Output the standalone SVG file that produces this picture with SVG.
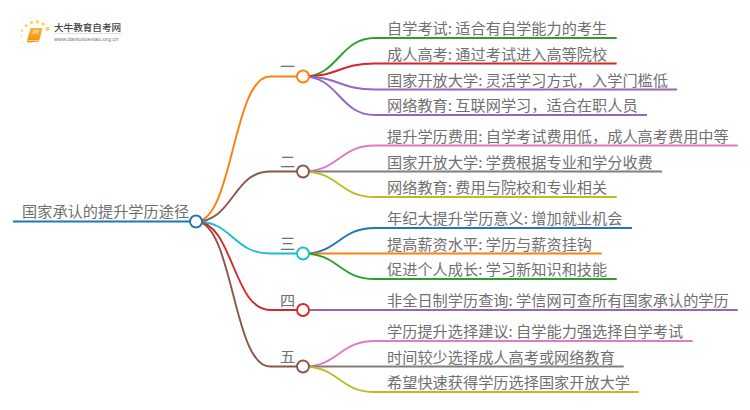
<svg xmlns="http://www.w3.org/2000/svg" width="750" height="410" viewBox="0 0 750 410">
<style>
text{font-family:"Noto Sans CJK SC","Liberation Sans",sans-serif;font-size:15.2px;fill:#707070}
.c{fill:none;stroke-width:1.9}
.n{fill:#fff;stroke-width:1.9}
.o{stroke:#ff7f0e}.br{stroke:#8c564b}.cy{stroke:#17becf}.r{stroke:#d62728}.g{stroke:#2ca02c}.p{stroke:#9467bd}.pk{stroke:#e377c2}.gy{stroke:#7f7f7f}.ol{stroke:#bcbd22}.b{stroke:#1f77b4}
</style>
<defs><linearGradient id="bk" x1="0" y1="0" x2="0" y2="1"><stop offset="0" stop-color="#fbb63f"/><stop offset="1" stop-color="#f08c08"/></linearGradient></defs>
<rect width="750" height="410" fill="#fff"/>
<g id="connectors">
<path class="c b" d="M13 221.500H190"/>
<path class="c o" d="M196 221.500C233 221.500 233 76.500 270 76.500H297"/>
<path class="c br" d="M196 221.500C233 221.500 233 171.500 270 171.500H297"/>
<path class="c cy" d="M196 221.500C233 221.500 233 253.500 270 253.500H297"/>
<path class="c r" d="M196 221.500C233 221.500 233 310 270 310H297"/>
<path class="c br" d="M196 221.500C233 221.500 233 366.500 270 366.500H297"/>
<path class="c g" d="M303 76.500C339 76.500 339 38 375 38H616.700"/>
<path class="c r" d="M303 76.500C339 76.500 339 63.500 375 63.500H616.700"/>
<path class="c p" d="M303 76.500C339 76.500 339 89.500 375 89.500H677"/>
<path class="c p" d="M303 76.500C339 76.500 339 115 375 115H647"/>
<path class="c pk" d="M303 171.500C339 171.500 339 145.500 375 145.500H737.700"/>
<path class="c gy" d="M303 171.500H662"/>
<path class="c ol" d="M303 171.500C339 171.500 339 197 375 197H616.700"/>
<path class="c b" d="M303 253.500C339 253.500 339 228 375 228H632"/>
<path class="c o" d="M303 253.500H601.700"/>
<path class="c g" d="M303 253.500C339 253.500 339 279 375 279H616.700"/>
<path class="c p" d="M303 310H737.700"/>
<path class="c pk" d="M303 366.500C339 366.500 339 341 375 341H692.700"/>
<path class="c gy" d="M303 366.500H623.700"/>
<path class="c ol" d="M303 366.500C339 366.500 339 392 375 392H638.700"/>
</g>
<g id="root"><circle class="n b" cx="196" cy="221.500" r="6"/><text x="22" y="217">国家承认的提升学历途径</text></g>
<g id="b1"><circle class="n o" cx="303" cy="76.500" r="6"/><text x="280" y="72">一</text></g>
<g id="b2"><circle class="n br" cx="303" cy="171.500" r="6"/><text x="280" y="167">二</text></g>
<g id="b3"><circle class="n cy" cx="303" cy="253.500" r="6"/><text x="280" y="249">三</text></g>
<g id="b4"><circle class="n r" cx="303" cy="310" r="6"/><text x="280" y="305.500">四</text></g>
<g id="b5"><circle class="n br" cx="303" cy="366.500" r="6"/><text x="280" y="362">五</text></g>
<g id="l1"><text x="387" y="34">自学考试: 适合有自学能力的考生</text></g>
<g id="l2"><text x="387" y="59.500">成人高考: 通过考试进入高等院校</text></g>
<g id="l3"><text x="387" y="85.500">国家开放大学: 灵活学习方式，入学门槛低</text></g>
<g id="l4"><text x="387" y="111">网络教育: 互联网学习，适合在职人员</text></g>
<g id="l5"><text x="387" y="141.500">提升学历费用: 自学考试费用低，成人高考费用中等</text></g>
<g id="l6"><text x="387" y="167.500">国家开放大学: 学费根据专业和学分收费</text></g>
<g id="l7"><text x="387" y="193">网络教育: 费用与院校和专业相关</text></g>
<g id="l8"><text x="387" y="224">年纪大提升学历意义: 增加就业机会</text></g>
<g id="l9"><text x="387" y="249.500">提高薪资水平: 学历与薪资挂钩</text></g>
<g id="l10"><text x="387" y="275">促进个人成长: 学习新知识和技能</text></g>
<g id="l11"><text x="387" y="306">非全日制学历查询: 学信网可查所有国家承认的学历</text></g>
<g id="l12"><text x="387" y="337">学历提升选择建议: 自学能力强选择自学考试</text></g>
<g id="l13"><text x="387" y="362.500">时间较少选择成人高考或网络教育</text></g>
<g id="l14"><text x="387" y="388">希望快速获得学历选择国家开放大学</text></g>
<g id="logo">
<g fill="#fbd27a">
<circle cx="47.500" cy="29" r="2.200"/><circle cx="43" cy="24" r="1.800"/><circle cx="37.500" cy="21.800" r="1.900"/><circle cx="31.500" cy="22.500" r="1.700"/><circle cx="26" cy="25.500" r="1.500"/><circle cx="22" cy="30.500" r="1.200"/><circle cx="21.500" cy="36.500" r="1" opacity=".7"/><circle cx="23" cy="42.500" r="1" opacity=".4"/>
</g>
<path d="M30.500 28H42.500L39 41.500L28 42.500Q26.500 42 27.500 39Z" fill="url(#bk)"/>
<path d="M28 40.500H38.500" stroke="#fde3b0" stroke-width=".8" fill="none"/>
<path d="M33 31H39M32.500 33H38" stroke="#fff" stroke-width=".7" fill="none"/>
<text x="54" y="31" style="font-size:9.600px;fill:#444;font-weight:500">大牛教育自考网</text>
<path d="M54 33.500H122" stroke="#ccc" stroke-width=".6"/>
<text x="54" y="40.500" style="font-size:5.700px;font-family:'Liberation Sans',sans-serif;fill:#777">www.daniuxuexiao.org.cn</text>
</g>
</svg>
